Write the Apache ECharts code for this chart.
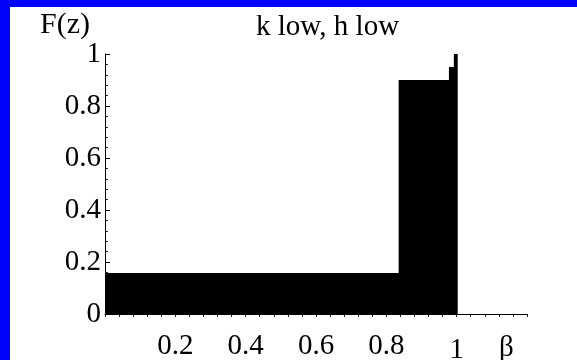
<!DOCTYPE html>
<html>
<head>
<meta charset="utf-8">
<script src="https://cdn.jsdelivr.net/npm/echarts@6/dist/echarts.min.js"></script>
<style>
  html, body { margin: 0; padding: 0; background: #fff; }
  #chart { width: 577px; height: 360px; }
</style>
</head>
<body>
<div id="chart"></div>
<script>
// step points of F(z): value holds from each x until the next one
const stepX = [0, 0.835, 0.978, 0.992, 1.003]
const stepF = [0.158, 0.9, 0.95, 1.0, 1.0]
const xTickLabels = ['0.2', '0.4', '0.6', '0.8', '1']
const yTickLabels = ['0', '0.2', '0.4', '0.6', '0.8', '1']

const serif = 'Liberation Serif, Times New Roman, serif'
const chart = echarts.init(document.getElementById('chart'))

const seriesData = stepX.map((x, i) => [x, stepF[i]])

const option = {
  animation: false,
  backgroundColor: '#fff',
  title: {
    text: 'k low, h low',
    left: 251,
    top: 8,
    textStyle: { fontFamily: serif, fontSize: 29, fontWeight: 'normal', color: '#000' }
  },
  grid: { left: 105, right: 50, top: 54, bottom: 46, containLabel: false, outerBoundsMode: 'none' },
  xAxis: {
    type: 'value',
    min: 0,
    max: 1.2,
    interval: 0.2,
    axisLine: { lineStyle: { color: '#000', width: 1 } },
    axisTick: { show: true, inside: false, length: 3, lineStyle: { color: '#222' } },
    minorTick: { show: true, splitNumber: 5, length: 3, lineStyle: { color: '#222' } },
    splitLine: { show: false },
    axisLabel: {
      margin: 18,
      fontFamily: serif,
      fontSize: 29,
      color: '#000',
      formatter: v => {
        const s = String(Math.round(v * 10) / 10)
        if (!xTickLabels.includes(s)) return ''
        return s === '1' ? '{low|1}' : s
      },
      rich: { low: { fontFamily: serif, fontSize: 29, color: '#000', padding: [4, 0, 0, 0] } }
    }
  },
  yAxis: {
    type: 'value',
    min: 0,
    max: 1,
    interval: 0.2,
    axisLine: { show: true, lineStyle: { color: '#000', width: 1 } },
    axisTick: { show: true, inside: true, length: 5, lineStyle: { color: '#000' } },
    minorTick: { show: true, splitNumber: 5, length: 3, lineStyle: { color: '#222' } },
    splitLine: { show: false },
    axisLabel: {
      margin: 4,
      fontFamily: serif,
      fontSize: 29,
      color: '#000',
      formatter: v => {
        const s = String(Math.round(v * 10) / 10)
        return yTickLabels.includes(s) ? s : ''
      }
    }
  },
  graphic: [
    { type: 'rect', left: 0, top: 0, shape: { width: 577, height: 7 }, style: { fill: '#0000ff' } },
    { type: 'rect', left: 0, top: 0, shape: { width: 10, height: 360 }, style: { fill: '#0000ff' } },
    { type: 'text', left: 40, top: 10, style: { text: 'F(z)', font: '30px ' + serif, fill: '#000' } },
    { type: 'text', left: 499, top: 334, style: { text: 'β', font: '29px ' + serif, fill: '#000' } }
  ],
  series: [
    {
      type: 'line',
      step: 'end',
      data: seriesData,
      showSymbol: false,
      lineStyle: { width: 0, color: '#000' },
      itemStyle: { color: '#000' },
      areaStyle: { color: '#000', opacity: 1 }
    }
  ]
}

chart.setOption(option)
</script>
</body>
</html>
